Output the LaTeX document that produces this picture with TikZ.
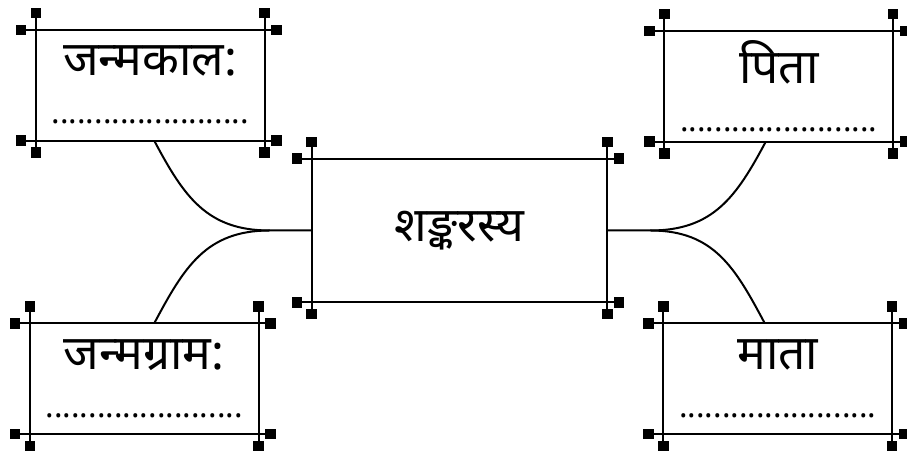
\documentclass[tikz,border=0pt]{standalone}
\usepackage{fontspec}
\newfontfamily\deva[Script=Devanagari]{Noto Sans}
\usetikzlibrary{arrows.meta}
\usetikzlibrary{positioning}
\usetikzlibrary{calc}

\tikzset{
  box/.style={minimum width=114pt, minimum height=55pt, inner sep=0pt, align=center, font=\deva\fontsize{24}{30}\selectfont},
  frame/.style={line width=1pt, {Square[length=5.2pt,width=5.2pt]}-{Square[length=5.2pt,width=5.2pt]}},
  link/.style={line width=1pt},
}
\newcommand{\blankrow}{{\fontsize{16}{16}\selectfont .......................}}

\begin{document}
\begin{tikzpicture}[x=0.5pt, y=0.5pt]
\useasboundingbox (0,0) rectangle (907,460);

\node[box, minimum width=147.5pt, minimum height=71.5pt] (c) at (459.5,229.5) {शङ्करस्य};

\node[box, above left = 9pt and 23.5pt of c] (kaal) {जन्मकाल:\\[-6pt]\blankrow};
\node[box, above right = 8.5pt and 28.5pt of c] (pita) {पिता\\[-6pt]\blankrow};
\node[box, below left = 10.5pt and 26.5pt of c] (gram) {जन्मग्राम:\\[-6pt]\blankrow};
\node[box, below right = 10.5pt and 28pt of c] (mata) {माता\\[-6pt]\blankrow};

\foreach \b in {c,kaal,pita,gram,mata} {
  \draw[frame] ($(\b.north west)+(-20,0)$) -- ($(\b.north east)+(17,0)$);
  \draw[frame] ($(\b.south west)+(-20,0)$) -- ($(\b.south east)+(17,0)$);
  \draw[frame] ($(\b.north west)+(0,22)$) -- ($(\b.south west)+(0,-17)$);
  \draw[frame] ($(\b.north east)+(0,22)$) -- ($(\b.south east)+(0,-17)$);
}

\coordinate[left = 21pt of c.west] (jl);
\coordinate[right = 21.5pt of c.east] (jr);

\draw[link] ([xshift=2pt]kaal.south) to[out=-62,in=180,looseness=1.1] (jl) -- (c.west);
\draw[link] ([xshift=5pt]gram.north) to[out=62,in=180,looseness=1.1] (jl);
\draw[link] ([xshift=-6.5pt]pita.south) to[out=-118,in=0,looseness=1.1] (jr) -- (c.east);
\draw[link] ([xshift=-6.5pt]mata.north) to[out=118,in=0,looseness=1.1] (jr);

\end{tikzpicture}
\end{document}
